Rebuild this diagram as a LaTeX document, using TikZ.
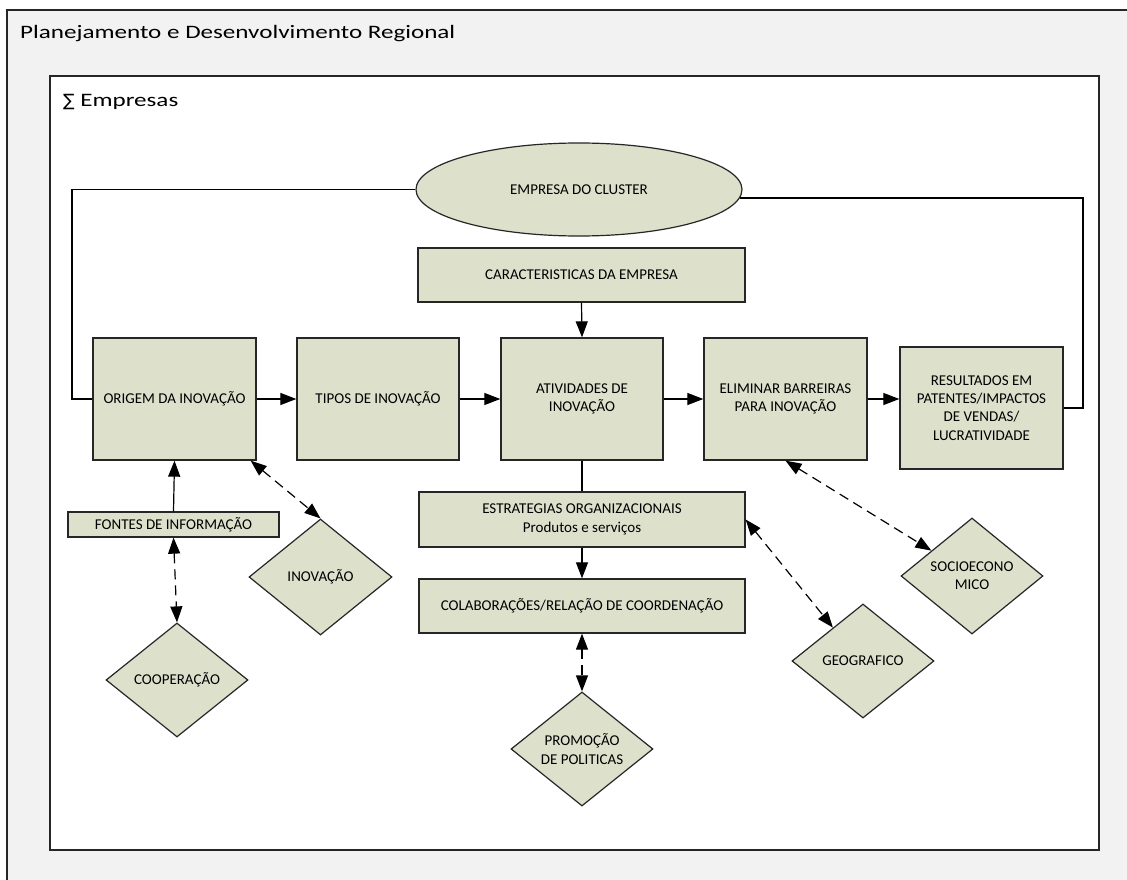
\documentclass[tikz,border=0pt]{standalone}
\usepackage{fontspec}
\setmainfont{Carlito}
\newfontfamily\headfont[FakeStretch=1.32]{Carlito}
\newfontfamily\symfont{DejaVu Sans}
\usetikzlibrary{arrows.meta,shapes.geometric}

\definecolor{panelgray}{RGB}{242,242,242}
\definecolor{boxfill}{RGB}{221,225,204}
\definecolor{edge}{RGB}{38,38,38}

\tikzset{
  box/.style={draw=edge, line width=1.3pt, fill=boxfill, rectangle, inner sep=0pt,
    align=center, font=\fontsize{15}{18.3}\selectfont},
  dia/.style={draw=edge, line width=1.2pt, fill=boxfill, diamond, inner sep=0pt,
    minimum width=142pt, minimum height=114pt, align=center,
    font=\fontsize{15}{18.3}\selectfont},
  flow/.style={draw=black, line width=1.2pt, -{Triangle[length=16pt,width=12pt]}},
  link/.style={draw=black, line width=1.2pt},
  assoc/.style={draw=black, line width=1.2pt, dash pattern=on 10pt off 6pt,
    {Triangle[length=16pt,width=12pt]}-{Triangle[length=16pt,width=12pt]}},
  heading/.style={anchor=base west, inner sep=0pt, font=\headfont\fontsize{19}{22}\selectfont}
}

\begin{document}
\begin{tikzpicture}[x=1pt,y=-1pt]
  \clip (0,0) rectangle (1127,880);
  \fill[white] (0,0) rectangle (1127,880);

  % regional planning container
  \draw[draw=edge, line width=1.5pt, fill=panelgray] (7,10) rectangle (1140,900);
  \node[heading] (regiao) at (20,39) {Planejamento e Desenvolvimento Regional};

  % companies container
  \draw[draw=edge, line width=1.2pt, fill=white] (50,76) rectangle (1099,850);
  \node[heading] (empresas) at (63,107) {{\symfont\fontsize{17}{20}\selectfont ∑} Empresas};

  % cluster company
  \node[ellipse, draw=edge, line width=1.2pt, fill=boxfill, minimum width=326pt,
        minimum height=93pt, inner sep=0pt, font=\fontsize{15}{18.3}\selectfont]
        (emp) at (579,189.5) {EMPRESA DO CLUSTER};

  % main chain
  \node[box, minimum width=327pt, minimum height=54pt] (carac) at (581.5,275) {CARACTERISTICAS DA EMPRESA};
  \node[box, minimum width=163pt, minimum height=122pt] (origem) at (174.5,399) {ORIGEM DA INOVAÇÃO};
  \node[box, minimum width=162pt, minimum height=122pt] (tipos) at (378,399) {TIPOS DE INOVAÇÃO};
  \node[box, minimum width=162pt, minimum height=122pt] (ativ) at (582,399) {ATIVIDADES DE\\INOVAÇÃO};
  \node[box, minimum width=163pt, minimum height=122pt] (elim) at (785.5,399) {ELIMINAR BARREIRAS\\PARA INOVAÇÃO};
  \node[box, minimum width=163pt, minimum height=122pt] (result) at (981.5,408) {RESULTADOS EM\\PATENTES/IMPACTOS\\DE VENDAS/\\LUCRATIVIDADE};

  % supporting boxes
  \node[box, minimum width=211pt, minimum height=25pt] (fontes) at (173.5,524.5) {FONTES DE INFORMAÇÃO};
  \node[box, minimum width=326pt, minimum height=55pt] (estrat) at (582,519.5) {ESTRATEGIAS ORGANIZACIONAIS\\Produtos e serviços};
  \node[box, minimum width=326pt, minimum height=54pt] (colab) at (582,606) {COLABORAÇÕES/RELAÇÃO DE COORDENAÇÃO};

  % context factors
  \node[dia] (coop) at (177,680) {COOPERAÇÃO};
  \node[dia, minimum width=143pt, minimum height=116pt] (inov) at (320.5,577) {INOVAÇÃO};
  \node[dia] (promo) at (582,749) {PROMOÇÃO\\DE POLITICAS};
  \node[dia] (geo) at (863,661) {GEOGRAFICO};
  \node[dia, minimum height=116pt] (socio) at (972,576) {SOCIOECONO\\MICO};

  % feedback loop around the cluster company
  \coordinate (lx) at (72,399);
  \coordinate (rx) at (1083,408);
  \draw[link] (emp.west) -| (lx) -- (origem.west);
  \draw[link] (emp.-3) -| (rx) -- (result.east);

  % innovation flow
  \draw[flow] (origem.east) -- (tipos.west);
  \draw[flow] (tipos.east) -- (ativ.west);
  \draw[flow] (ativ.east) -- (elim.west);
  \draw[flow] (elim.east) -- (elim.east -| result.west);
  \draw[flow] (carac.south) -- (ativ.north);
  \draw[flow] (fontes.north) -- (origem.south);
  \draw[link] (ativ.south) -- (estrat.north);
  \draw[flow] (estrat.south) -- (colab.north);

  % associations with context factors
  \draw[assoc] (fontes.south) -- (coop.north);
  \draw[assoc] (origem.-39) -- (inov.north);
  \draw[assoc] (colab.south) -- (promo.north);
  \draw[assoc] (estrat.east) -- (geo.132);
  \draw[assoc] (elim.south) -- (socio.148);
\end{tikzpicture}
\end{document}
